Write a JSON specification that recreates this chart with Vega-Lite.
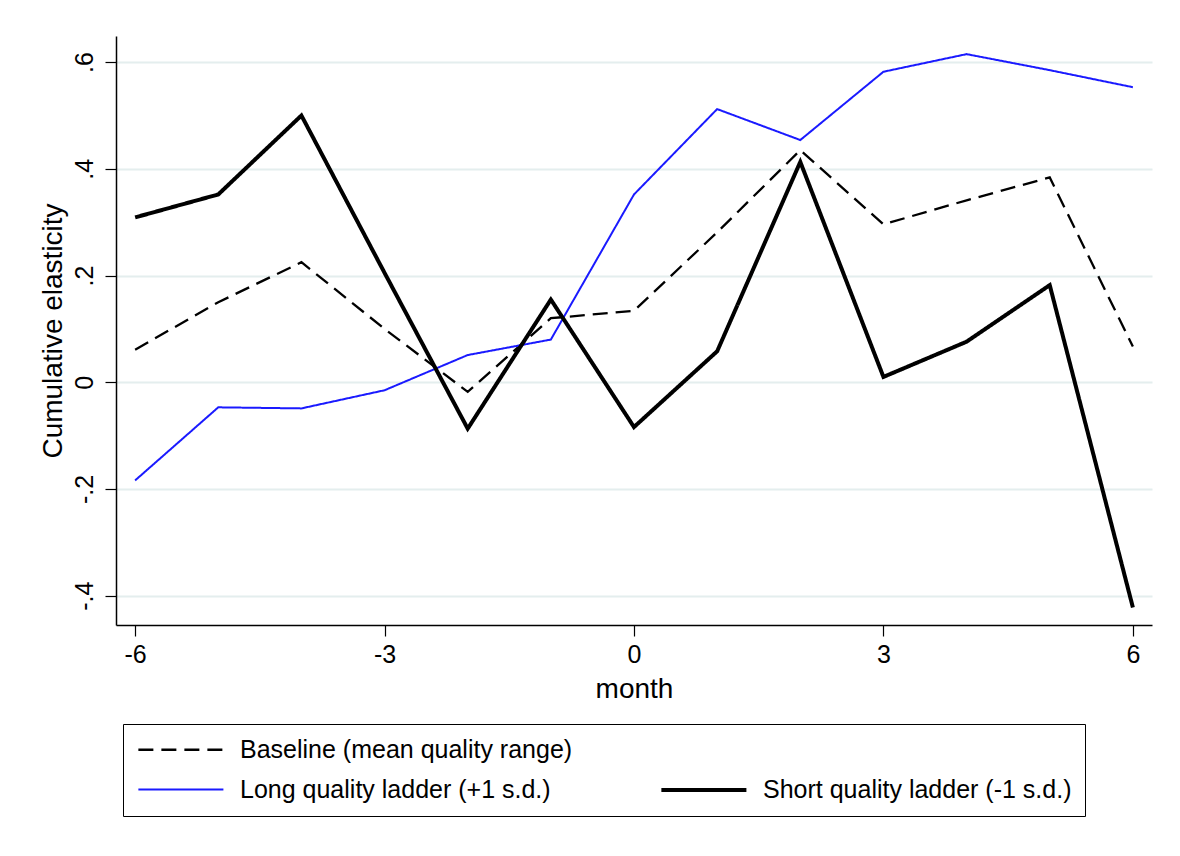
{
  "$schema": "https://vega.github.io/schema/vega-lite/v6.json",
  "width": 1036,
  "height": 589,
  "autosize": "none",
  "padding": {"left": 116, "top": 36, "right": 28, "bottom": 231},
  "background": "white",
  "config": {
    "view": {"stroke": null},
    "font": "Liberation Sans"
  },
  "data": {
    "values": [
      {"month": -6, "value": 0.061, "series": "Baseline (mean quality range)"},
      {"month": -5, "value": 0.150, "series": "Baseline (mean quality range)"},
      {"month": -4, "value": 0.225, "series": "Baseline (mean quality range)"},
      {"month": -3, "value": 0.100, "series": "Baseline (mean quality range)"},
      {"month": -2, "value": -0.018, "series": "Baseline (mean quality range)"},
      {"month": -1, "value": 0.120, "series": "Baseline (mean quality range)"},
      {"month": 0, "value": 0.134, "series": "Baseline (mean quality range)"},
      {"month": 1, "value": 0.281, "series": "Baseline (mean quality range)"},
      {"month": 2, "value": 0.435, "series": "Baseline (mean quality range)"},
      {"month": 3, "value": 0.296, "series": "Baseline (mean quality range)"},
      {"month": 4, "value": 0.341, "series": "Baseline (mean quality range)"},
      {"month": 5, "value": 0.384, "series": "Baseline (mean quality range)"},
      {"month": 6, "value": 0.067, "series": "Baseline (mean quality range)"},
      {"month": -6, "value": -0.184, "series": "Long quality ladder (+1 s.d.)"},
      {"month": -5, "value": -0.047, "series": "Long quality ladder (+1 s.d.)"},
      {"month": -4, "value": -0.049, "series": "Long quality ladder (+1 s.d.)"},
      {"month": -3, "value": -0.015, "series": "Long quality ladder (+1 s.d.)"},
      {"month": -2, "value": 0.051, "series": "Long quality ladder (+1 s.d.)"},
      {"month": -1, "value": 0.080, "series": "Long quality ladder (+1 s.d.)"},
      {"month": 0, "value": 0.352, "series": "Long quality ladder (+1 s.d.)"},
      {"month": 1, "value": 0.512, "series": "Long quality ladder (+1 s.d.)"},
      {"month": 2, "value": 0.454, "series": "Long quality ladder (+1 s.d.)"},
      {"month": 3, "value": 0.582, "series": "Long quality ladder (+1 s.d.)"},
      {"month": 4, "value": 0.615, "series": "Long quality ladder (+1 s.d.)"},
      {"month": 5, "value": 0.585, "series": "Long quality ladder (+1 s.d.)"},
      {"month": 6, "value": 0.553, "series": "Long quality ladder (+1 s.d.)"},
      {"month": -6, "value": 0.309, "series": "Short quality ladder (-1 s.d.)"},
      {"month": -5, "value": 0.352, "series": "Short quality ladder (-1 s.d.)"},
      {"month": -4, "value": 0.500, "series": "Short quality ladder (-1 s.d.)"},
      {"month": -3, "value": 0.205, "series": "Short quality ladder (-1 s.d.)"},
      {"month": -2, "value": -0.087, "series": "Short quality ladder (-1 s.d.)"},
      {"month": -1, "value": 0.155, "series": "Short quality ladder (-1 s.d.)"},
      {"month": 0, "value": -0.084, "series": "Short quality ladder (-1 s.d.)"},
      {"month": 1, "value": 0.058, "series": "Short quality ladder (-1 s.d.)"},
      {"month": 2, "value": 0.413, "series": "Short quality ladder (-1 s.d.)"},
      {"month": 3, "value": 0.010, "series": "Short quality ladder (-1 s.d.)"},
      {"month": 4, "value": 0.076, "series": "Short quality ladder (-1 s.d.)"},
      {"month": 5, "value": 0.182, "series": "Short quality ladder (-1 s.d.)"},
      {"month": 6, "value": -0.422, "series": "Short quality ladder (-1 s.d.)"}
    ]
  },
  "mark": {"type": "line", "strokeCap": "butt", "strokeJoin": "miter"},
  "encoding": {
    "x": {
      "field": "month",
      "type": "quantitative",
      "scale": {"domain": [-6.23, 6.23], "nice": false, "zero": false},
      "axis": {
        "title": "month",
        "values": [-6, -3, 0, 3, 6],
        "labelExpr": "toString(datum.value)",
        "grid": false,
        "domainColor": "black",
        "domainWidth": 1.5,
        "tickColor": "black",
        "tickWidth": 1.2,
        "tickSize": 11,
        "labelFontSize": 25,
        "labelColor": "black",
        "labelPadding": 6,
        "titleFontSize": 28,
        "titleFontWeight": "normal",
        "titleColor": "black",
        "titlePadding": 8
      }
    },
    "y": {
      "field": "value",
      "type": "quantitative",
      "scale": {"domain": [-0.455, 0.649], "nice": false, "zero": false},
      "axis": {
        "title": "Cumulative elasticity",
        "values": [-0.4, -0.2, 0, 0.2, 0.4, 0.6],
        "labelExpr": "datum.value == 0 ? '0' : replace(toString(datum.value), '0.', '.')",
        "grid": true,
        "gridColor": "#e4eeee",
        "gridWidth": 2,
        "domainColor": "black",
        "domainWidth": 1.5,
        "tickColor": "black",
        "tickWidth": 1.2,
        "tickSize": 11,
        "labelFontSize": 25,
        "labelColor": "black",
        "labelAngle": 270,
        "labelAlign": "center",
        "labelBaseline": "middle",
        "labelPadding": 21,
        "titleFontSize": 28,
        "titleFontWeight": "normal",
        "titleColor": "black",
        "titlePadding": 5
      }
    },
    "color": {
      "field": "series",
      "type": "nominal",
      "scale": {
        "domain": ["Baseline (mean quality range)", " ", "Long quality ladder (+1 s.d.)", "Short quality ladder (-1 s.d.)"],
        "range": ["black", "white", "#1a1aff", "black"]
      },
      "legend": {
        "title": null,
        "orient": "none",
        "legendX": 7,
        "legendY": 688,
        "columns": 2,
        "direction": "horizontal",
        "columnPadding": 80,
        "rowPadding": 14,
        "padding": 13,
        "strokeColor": "black",
        "symbolType": "M-1,0H7",
        "symbolSize": 452,
        "labelFontSize": 25,
        "labelColor": "black",
        "labelOffset": 78,
        "labelLimit": 600
      }
    },
    "strokeDash": {
      "field": "series",
      "type": "nominal",
      "scale": {
        "type": "ordinal",
        "domain": ["Baseline (mean quality range)", " ", "Long quality ladder (+1 s.d.)", "Short quality ladder (-1 s.d.)"],
        "range": [[15, 8], [1, 0], [1, 0], [1, 0]]
      },
      "legend": null
    },
    "strokeWidth": {
      "field": "series",
      "type": "nominal",
      "scale": {
        "type": "ordinal",
        "domain": ["Baseline (mean quality range)", " ", "Long quality ladder (+1 s.d.)", "Short quality ladder (-1 s.d.)"],
        "range": [2.3, 0, 2, 4]
      },
      "legend": null
    }
  }
}
